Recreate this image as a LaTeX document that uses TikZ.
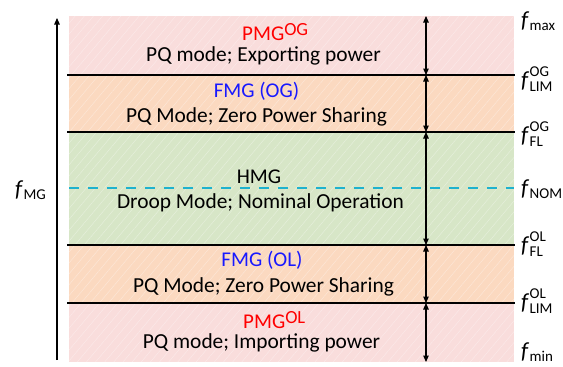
\documentclass[tikz,border=0pt]{standalone}
\usepackage{fontspec}
\setmainfont{Carlito}
\usetikzlibrary{arrows.meta,patterns.meta}
\definecolor{pinkband}{RGB}{249,221,220}
\definecolor{orangeband}{RGB}{251,217,192}
\definecolor{greenband}{RGB}{215,230,199}
\definecolor{titlered}{RGB}{255,0,0}
\definecolor{titleblue}{RGB}{25,25,255}
\definecolor{nomcyan}{RGB}{30,178,206}
\newcommand\flab[2]{\textit{f}\kern0.3pt\rlap{\raisebox{0.48em}{\fontsize{15}{15}\selectfont #1}}\raisebox{-0.15em}{\fontsize{15}{15}\selectfont #2}}
\newcommand\fsub[1]{\textit{f}\kern0.3pt\raisebox{-0.15em}{\fontsize{15}{15}\selectfont #1}}
\newcommand\supbig[1]{\raisebox{0.25em}{\fontsize{18.5}{18.5}\selectfont #1}}
\begin{document}
\begin{tikzpicture}[x=1pt,y=-1pt,
  hatch/.style={pattern={Lines[angle=50,distance=7pt,line width=0.5pt]},pattern color=white},
  subtxt/.style={font=\fontsize{21.4}{21.4}\selectfont,inner sep=0pt},
  titletxt/.style={font=\fontsize{21}{21}\selectfont,inner sep=0pt},
  flabel/.style={font=\fontsize{23}{23}\selectfont,anchor=west,inner sep=0pt},
  levelline/.style={line width=1.1pt,black},
  dbl/.style={line width=1.1pt,{Triangle[length=6.5pt,width=5.5pt]}-{Triangle[length=6.5pt,width=5.5pt]}},
  sgl/.style={line width=1.1pt,-{Triangle[length=6.5pt,width=5.5pt]}}]
\useasboundingbox (0,0) rectangle (563,367);
% bands
\fill[pinkband] (69,16) rectangle (514,75);
\fill[orangeband] (69,75) rectangle (514,132);
\fill[greenband] (69,132) rectangle (514,245);
\fill[orangeband] (69,245) rectangle (514,303);
\fill[pinkband] (69,303) rectangle (514,362);
\begin{scope}[opacity=0.35]
\fill[hatch] (69,16) rectangle (514,362);
\end{scope}
% level lines
\draw[levelline] (67,75) -- (515,75);
\draw[levelline] (67,132) -- (515,132);
\draw[levelline] (67,245) -- (515,245);
\draw[levelline] (67,303) -- (515,303);
\draw[nomcyan,line width=1.1pt,dash pattern=on 10pt off 9pt] (69,188) -- (514,188);
% coordinates for arrows
\coordinate (a0) at (426,16);
\coordinate (a1) at (426,75);
\coordinate (a2) at (426,132);
\coordinate (a3) at (426,245);
\coordinate (a4) at (426,303);
\coordinate (a5) at (426,362);
\draw[dbl] (a0) -- (a1);
\draw[dbl] (a1) -- (a2);
\draw[dbl] (a2) -- (a3);
\draw[dbl] (a3) -- (a4);
\draw[dbl] (a4) -- (a5);
% left axis
\coordinate (axb) at (57,360);
\coordinate (axt) at (57,18);
\draw[sgl] (axb) -- (axt);
\node[flabel] (fmg) at (15,190) {\fsub{MG}};
% band texts
\node[titletxt,text=titlered,anchor=west] (pmgog) at (242,32) {PMG\supbig{OG}};
\node[subtxt] (pmgogs) at (263.5,55.5) {PQ mode; Exporting power};
\node[titletxt,text=titleblue] (fmgog) at (256.5,91) {FMG (OG)};
\node[subtxt] (fmgogs) at (256.5,117) {PQ Mode; Zero Power Sharing};
\node[titletxt] (hmg) at (259,176.5) {HMG};
\node[subtxt] (hmgs) at (260.5,203) {Droop Mode; Nominal Operation};
\node[titletxt,text=titleblue] (fmgol) at (262,260) {FMG (OL)};
\node[subtxt] (fmgols) at (263.5,287) {PQ Mode; Zero Power Sharing};
\node[titletxt,text=titlered,anchor=west] (pmgol) at (243,320) {PMG\supbig{OL}};
\node[subtxt] (pmgols) at (261.5,343) {PQ mode; Importing power};
% right labels
\node[flabel] (fmax) at (521,21) {\fsub{max}};
\node[flabel] (flimog) at (521,79) {\flab{OG}{LIM}};
\node[flabel] (fflog) at (521,134) {\flab{OG}{FL}};
\node[flabel] (fnom) at (521,189) {\fsub{NOM}};
\node[flabel] (fflol) at (521,244) {\flab{OL}{FL}};
\node[flabel] (flimol) at (521,301) {\flab{OL}{LIM}};
\node[flabel] (fmin) at (521,352) {\fsub{min}};
\end{tikzpicture}
\end{document}
